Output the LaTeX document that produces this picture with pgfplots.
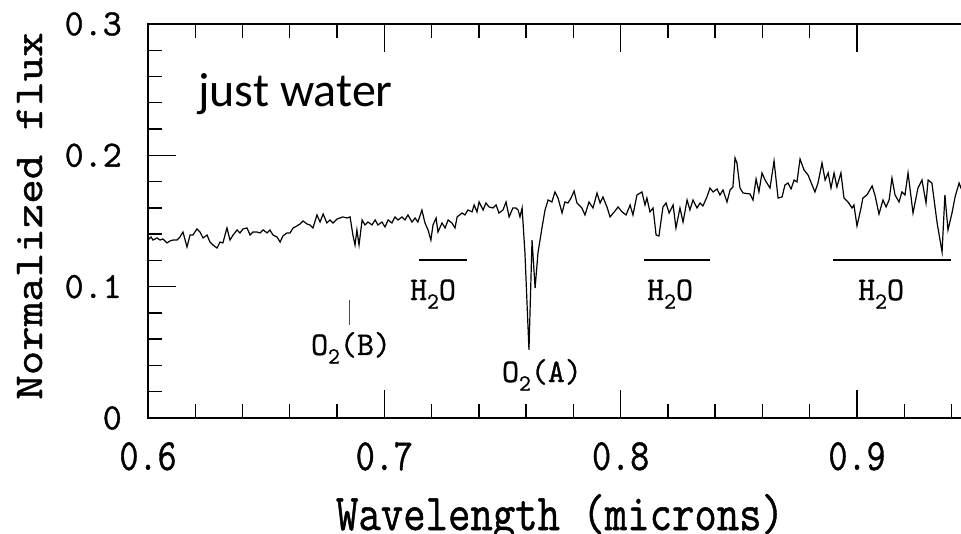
\documentclass[border=0pt]{standalone}
\usepackage{fontspec}
\usepackage{graphicx}
\usepackage{pgfplots}
\pgfplotsset{compat=1.18}
\newfontfamily\calibri{Carlito}
\newfontfamily\ptt{Latin Modern Mono}[FakeBold=1]
\newcommand\ttf[1]{\fontsize{#1}{#1}\selectfont\ptt}
\newcommand\sub[1]{\raisebox{-0.26em}{\fontsize{23}{23}\selectfont #1}}
\pgfplotstableread{
x y
0.6000 0.1355
0.6013 0.1378
0.6021 0.1355
0.6038 0.1371
0.6051 0.1355
0.6063 0.1363
0.6080 0.1333
0.6093 0.1348
0.6106 0.1355
0.6123 0.1355
0.6135 0.1378
0.6148 0.1416
0.6165 0.1302
0.6178 0.1393
0.6190 0.1393
0.6207 0.1439
0.6220 0.1416
0.6233 0.1371
0.6250 0.1393
0.6262 0.1340
0.6275 0.1317
0.6292 0.1294
0.6305 0.1340
0.6317 0.1333
0.6334 0.1447
0.6347 0.1355
0.6360 0.1393
0.6377 0.1432
0.6389 0.1409
0.6402 0.1439
0.6419 0.1447
0.6432 0.1393
0.6444 0.1416
0.6461 0.1416
0.6474 0.1409
0.6487 0.1432
0.6504 0.1409
0.6516 0.1432
0.6529 0.1393
0.6546 0.1378
0.6559 0.1340
0.6571 0.1386
0.6588 0.1409
0.6601 0.1409
0.6614 0.1447
0.6630 0.1462
0.6643 0.1477
0.6656 0.1500
0.6673 0.1477
0.6685 0.1470
0.6698 0.1447
0.6715 0.1546
0.6728 0.1492
0.6741 0.1553
0.6757 0.1485
0.6770 0.1508
0.6783 0.1485
0.6800 0.1515
0.6812 0.1523
0.6825 0.1531
0.6842 0.1523
0.6855 0.1531
0.6867 0.1393
0.6876 0.1317
0.6884 0.1432
0.6893 0.1317
0.6906 0.1508
0.6918 0.1470
0.6931 0.1492
0.6948 0.1470
0.6961 0.1508
0.6973 0.1470
0.6990 0.1492
0.7003 0.1454
0.7016 0.1508
0.7032 0.1485
0.7045 0.1531
0.7058 0.1508
0.7075 0.1531
0.7087 0.1508
0.7100 0.1546
0.7117 0.1492
0.7130 0.1523
0.7142 0.1492
0.7159 0.1584
0.7172 0.1485
0.7185 0.1432
0.7197 0.1355
0.7206 0.1470
0.7219 0.1523
0.7227 0.1416
0.7244 0.1485
0.7257 0.1447
0.7270 0.1508
0.7286 0.1485
0.7299 0.1447
0.7308 0.1531
0.7329 0.1561
0.7341 0.1546
0.7354 0.1584
0.7371 0.1569
0.7380 0.1622
0.7392 0.1569
0.7401 0.1645
0.7418 0.1584
0.7430 0.1637
0.7443 0.1607
0.7460 0.1599
0.7473 0.1622
0.7485 0.1561
0.7502 0.1584
0.7515 0.1645
0.7528 0.1531
0.7544 0.1599
0.7557 0.1599
0.7566 0.1584
0.7574 0.1531
0.7583 0.1599
0.7595 0.1256
0.7612 0.0518
0.7625 0.1355
0.7638 0.0990
0.7650 0.1256
0.7667 0.1447
0.7680 0.1584
0.7693 0.1660
0.7709 0.1645
0.7722 0.1721
0.7735 0.1675
0.7752 0.1561
0.7764 0.1645
0.7777 0.1637
0.7790 0.1675
0.7803 0.1728
0.7815 0.1637
0.7836 0.1599
0.7849 0.1546
0.7866 0.1645
0.7883 0.1599
0.7900 0.1713
0.7913 0.1637
0.7925 0.1683
0.7942 0.1607
0.7955 0.1531
0.7976 0.1576
0.7989 0.1607
0.8006 0.1569
0.8023 0.1546
0.8040 0.1622
0.8052 0.1546
0.8069 0.1698
0.8090 0.1721
0.8103 0.1622
0.8111 0.1675
0.8124 0.1569
0.8137 0.1599
0.8150 0.1393
0.8162 0.1386
0.8179 0.1607
0.8192 0.1637
0.8205 0.1561
0.8222 0.1622
0.8234 0.1447
0.8251 0.1599
0.8264 0.1492
0.8281 0.1660
0.8293 0.1584
0.8306 0.1660
0.8323 0.1599
0.8336 0.1637
0.8348 0.1614
0.8365 0.1683
0.8378 0.1751
0.8391 0.1721
0.8408 0.1744
0.8420 0.1698
0.8433 0.1736
0.8450 0.1645
0.8463 0.1736
0.8475 0.1759
0.8484 0.1980
0.8492 0.1942
0.8505 0.1751
0.8518 0.1713
0.8547 0.1706
0.8560 0.1660
0.8573 0.1820
0.8585 0.1721
0.8598 0.1866
0.8611 0.1812
0.8632 0.1751
0.8649 0.1957
0.8666 0.1675
0.8683 0.1683
0.8695 0.1774
0.8708 0.1789
0.8721 0.1744
0.8734 0.1812
0.8746 0.1797
0.8759 0.1972
0.8776 0.1888
0.8793 0.1850
0.8810 0.1774
0.8822 0.1721
0.8835 0.1789
0.8852 0.1942
0.8865 0.1812
0.8878 0.1866
0.8890 0.1751
0.8903 0.1866
0.8915 0.1759
0.8932 0.1866
0.8945 0.1675
0.8962 0.1645
0.8979 0.1599
0.8987 0.1622
0.9000 0.1462
0.9017 0.1599
0.9025 0.1675
0.9042 0.1698
0.9064 0.1767
0.9076 0.1698
0.9093 0.1553
0.9110 0.1660
0.9123 0.1607
0.9136 0.1660
0.9148 0.1827
0.9161 0.1698
0.9178 0.1645
0.9190 0.1721
0.9203 0.1698
0.9216 0.1866
0.9237 0.1561
0.9258 0.1751
0.9275 0.1812
0.9292 0.1637
0.9301 0.1812
0.9317 0.1789
0.9339 0.1485
0.9360 0.1264
0.9372 0.1698
0.9385 0.1432
0.9402 0.1561
0.9415 0.1683
0.9432 0.1789
0.9440 0.1751
0.9450 0.1780
}\spectrum
\begin{document}
\begin{tikzpicture}
\begin{axis}[
  scale only axis,
  width=817.7pt, height=394pt,
  xmin=0.6, xmax=0.946,
  ymin=0, ymax=0.3,
  clip=false,
  axis line style={line width=2pt, black},
  tick align=inside,
  every tick/.style={black, line width=1.4pt},
  major tick length=28pt,
  minor tick length=14pt,
  xtick={0.6,0.7,0.8,0.9},
  ytick={0,0.1,0.2,0.3},
  minor x tick num=4,
  minor y tick num=4,
  xtick pos=right,
  xticklabel pos=left,
  ytick pos=left,
  xticklabels={\scalebox{1}[1.2]{0.6},\scalebox{1}[1.2]{0.7},\scalebox{1}[1.2]{0.8},\scalebox{1}[1.2]{0.9}},
  yticklabels={0,0.1,0.2,0.3},
  xticklabel style={font=\ttf{37}, inner sep=0pt, anchor=north, yshift=-24pt},
  yticklabel style={font=\ttf{37}, inner sep=0pt, anchor=east, xshift=-26pt},
  every axis x label/.style={at={(rel axis cs:0.5039,-0.2843)}, anchor=base, inner sep=0pt, font=\ttf{43.5}},
  every axis y label/.style={at={(rel axis cs:-0.1296,0.5127)}, rotate=90, anchor=base, inner sep=0pt, font=\ttf{41}},
  xlabel={\scalebox{1}[1.19]{Wavelength (microns)}},
  ylabel={\scalebox{1.16}[1]{Normalized flux}},
]
\addplot[black, line width=1.2pt, mark=none] table[x=x,y=y] {\spectrum};
% H2O bands
\addplot[black, line width=1.5pt, mark=none] coordinates {(0.7147,0.1203) (0.7350,0.1203)};
\addplot[black, line width=1.5pt, mark=none] coordinates {(0.8099,0.1203) (0.8378,0.1203)};
\addplot[black, line width=1.5pt, mark=none] coordinates {(0.8899,0.1203) (0.9398,0.1203)};
% O2(B) tick
\addplot[black!70, line width=1.2pt, mark=none] coordinates {(0.6851,0.0898) (0.6851,0.0708)};
% bottom tick marks
\pgfplotsinvokeforeach{0.7,0.8,0.9}{\draw[black, line width=1.4pt] (axis cs:#1,0) -- ([yshift=28pt]axis cs:#1,0);}
\pgfplotsinvokeforeach{0.62,0.64,0.66,0.68,0.72,0.74,0.76,0.78,0.82,0.84,0.86,0.88,0.92,0.94}{\draw[black, line width=1.4pt] (axis cs:#1,0) -- ([yshift=14pt]axis cs:#1,0);}
\node[font=\ttf{33}, anchor=base, inner sep=0pt] at (axis cs:0.7206,0.0898) {H\sub{2}O};
\node[font=\ttf{33}, anchor=base, inner sep=0pt] at (axis cs:0.8209,0.0898) {H\sub{2}O};
\node[font=\ttf{33}, anchor=base, inner sep=0pt] at (axis cs:0.9102,0.0898) {H\sub{2}O};
\node[font=\ttf{33}, anchor=base, inner sep=0pt] at (axis cs:0.6859,0.0480) {O\sub{2}(B)};
\node[font=\ttf{33}, anchor=base, inner sep=0pt] at (axis cs:0.7667,0.0274) {O\sub{2}(A)};
\node[font=\calibri\fontsize{48}{48}\selectfont, anchor=base west, inner sep=0pt] at (axis cs:0.6212,0.2368) {just water};
\coordinate (SW) at (rel axis cs:0,0);
\end{axis}
\pgfresetboundingbox
\path[use as bounding box] ([xshift=-148pt,yshift=-116pt]SW) rectangle ([xshift=813pt,yshift=418pt]SW);
\end{tikzpicture}
\end{document}
